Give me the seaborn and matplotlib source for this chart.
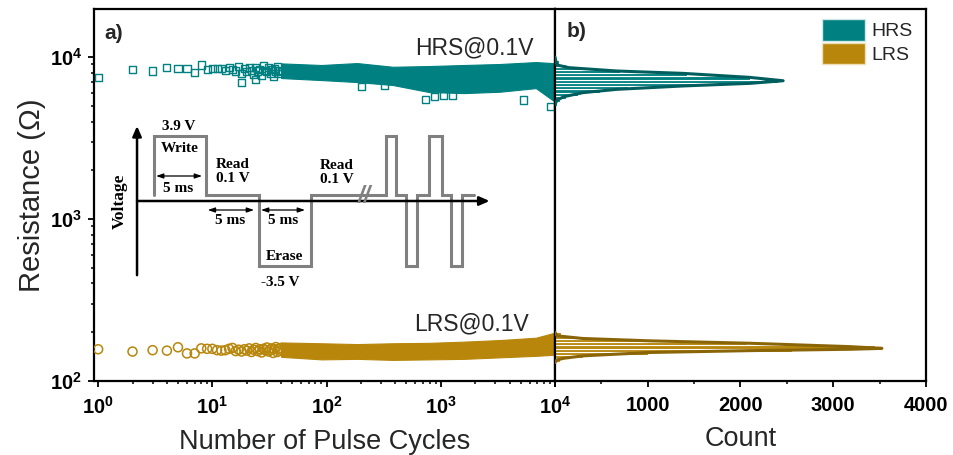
import numpy as np
import pandas as pd
import matplotlib
matplotlib.use("Agg")
import matplotlib.pyplot as plt
from matplotlib.patches import Patch
from matplotlib.ticker import FixedLocator, MultipleLocator, LogLocator, NullFormatter
import seaborn as sns

# ---------------- data ----------------
# individual early cycles (resistance in ohm)
early_cycles = list(range(1, 41))
hrs_early = [7450, 8390, 8200, 8590, 8470, 8470, 8000, 8930, 8400, 8500,
             8450, 8550, 8300, 8600, 8350, 8200, 8700, 7900, 8450, 8100,
             8600, 8300, 7800, 8650, 8200, 8400, 7700, 8900, 8300, 8100,
             8600, 7900, 8350, 7600, 8500, 8200, 8800, 7900, 8300, 8100]
lrs_early = [157, 152, 155, 154, 161.5, 148, 148, 159, 158, 158,
             155, 154, 155, 158, 160, 153, 156, 152, 157, 154,
             159, 151, 156, 160, 153, 157, 150, 158, 155, 161,
             152, 156, 159, 149, 157, 162, 151, 158, 154, 160]

# isolated low HRS readings inside the dense region
hrs_outlier_cycles = [18, 24, 203, 319, 731, 875, 1050, 1260, 5260, 9100]
hrs_outliers = [7000, 7300, 6620, 6720, 5480, 5690, 5830, 5830, 5430, 4980]

# envelope of the dense point cloud (cycles 40 .. 10^4)
cloud_cycles = [40, 90, 185, 380, 790, 1600, 3300, 6800, 9500, 10000]
hrs_cloud_high = [9140, 8930, 9180, 8710, 8800, 8930, 9060, 9310, 9180, 9100]
hrs_cloud_low = [7420, 7210, 7010, 6720, 6080, 5990, 6110, 6430, 5430, 5300]
lrs_cloud_high = [173, 171, 169, 171, 172, 175, 179, 185, 197, 198]
lrs_cloud_low = [141, 136, 137, 135, 136, 137, 140, 143, 145, 146]

# histogram bins (bin centres in ohm, 0.02 decade wide) and counts
bin_width_dec = 0.02
hrs_bin_centers = [5129, 5370, 5623, 5888, 6166, 6457, 6761, 7079, 7413,
                   7762, 8128, 8511, 8913, 9333]
hrs_counts = [20, 50, 120, 250, 485, 790, 1640, 2400, 2100, 1420, 700, 300, 120, 40]
lrs_bin_centers = [134.9, 141.3, 147.9, 154.9, 162.2, 169.8, 177.8, 186.2, 195.0]
lrs_counts = [50, 300, 1000, 2555, 3450, 2070, 1000, 300, 60]

# fitted distribution curves (resistance, count)
hrs_fit_r = [10000, 9500, 8930, 8600, 8200, 7930, 7490, 7140, 6880, 6630,
             6320, 6030, 5700, 5430, 5100]
hrs_fit_count = [0, 8, 22, 150, 668, 1380, 2100, 2460, 2100, 1380,
                 668, 302, 100, 22, 0]
lrs_fit_r = [200, 190, 183, 177, 171, 163, 159, 157, 154, 150, 143, 138, 135, 130]
lrs_fit_count = [0, 22, 300, 1024, 2100, 3180, 3525, 3180, 2100, 1024, 302, 90, 22, 0]

# pulse scheme: segment boundaries (ms) and drawn levels
pulse_t = [1.6, 1.6, 6.6, 6.6, 11.7, 11.7, 16.7, 16.7, 21.4]
pulse_v = [0.36, 3.9, 3.9, 0.36, 0.36, -3.88, -3.88, 0.36, 0.36]
pulse2_t = [22.4, 23.9, 23.9, 24.9, 24.9, 25.9, 25.9, 26.9, 26.9, 28.1,
            28.1, 29.3, 29.3, 30.2, 30.2, 31.2, 31.2, 32.4]
pulse2_v = [0.36, 0.36, 3.9, 3.9, 0.36, 0.36, -3.88, -3.88, 0.36, 0.36,
            3.9, 3.9, 0.36, 0.36, -3.88, -3.88, 0.36, 0.36]

x_ticks = [1, 10, 100, 1000, 10000]
x_ticklabels = [r"$\mathbf{10^{0}}$", r"$\mathbf{10^{1}}$", r"$\mathbf{10^{2}}$",
                r"$\mathbf{10^{3}}$", r"$\mathbf{10^{4}}$"]
y_ticks = [100, 1000, 10000]
y_ticklabels = [r"$\mathbf{10^{2}}$", r"$\mathbf{10^{3}}$", r"$\mathbf{10^{4}}$"]
count_ticks = [0, 1000, 2000, 3000, 4000]
count_ticklabels = ["", "1000", "2000", "3000", "4000"]

TEAL = "#008080"
GOLD = "#B8860B"
TEAL_DARK = "#005E5E"
GOLD_DARK = "#8A6508"
PULSE = "#808080"

# ---------------- style ----------------
sns.set_theme(style="ticks")
plt.rcParams.update({
    "font.family": ["Liberation Sans", "DejaVu Sans"],
    "mathtext.fontset": "custom",
    "mathtext.rm": "Liberation Sans",
    "mathtext.bf": "Liberation Sans:bold",
    "axes.linewidth": 1.6,
    "axes.edgecolor": "black",
    "xtick.major.width": 1.3, "ytick.major.width": 1.3,
    "xtick.minor.width": 1.1, "ytick.minor.width": 1.1,
    "xtick.major.size": 4.5, "ytick.major.size": 4.5,
    "xtick.minor.size": 2.5, "ytick.minor.size": 2.5,
    "xtick.direction": "out", "ytick.direction": "out",
    "xtick.color": "black", "ytick.color": "black",
})

fig = plt.figure(figsize=(9.54, 4.55), dpi=100)
W, H = 954, 455
ax1 = fig.add_axes([94 / W, (H - 381) / H, 461 / W, 372 / H])
ax1.set_xscale("log")
ax1.set_yscale("log")
ax2 = fig.add_axes([555 / W, (H - 381) / H, 371 / W, 372 / H], sharey=ax1)


def fig_xy(px, py):
    """pixel position measured from the top-left corner -> figure fraction"""
    return px / W, 1 - py / H


# ---------------- panel a: endurance ----------------
ax1.fill_between(cloud_cycles, hrs_cloud_low, hrs_cloud_high, color=TEAL, lw=0.8,
                 edgecolor=TEAL, zorder=2)
ax1.fill_between(cloud_cycles, lrs_cloud_low, lrs_cloud_high, color=GOLD, lw=0.8,
                 edgecolor=GOLD, zorder=2)

hrs_df = pd.DataFrame({"cycle": early_cycles + hrs_outlier_cycles,
                       "R": hrs_early + hrs_outliers})
lrs_df = pd.DataFrame({"cycle": early_cycles, "R": lrs_early})
sns.scatterplot(data=hrs_df, x="cycle", y="R", ax=ax1, marker="s", s=26,
                color=TEAL, facecolors="none", edgecolor=TEAL, linewidth=1.0,
                zorder=3, legend=False)
sns.scatterplot(data=lrs_df, x="cycle", y="R", ax=ax1, marker="o", s=42,
                color=GOLD, facecolors="none", edgecolor=GOLD, linewidth=1.1,
                zorder=3, legend=False)

ax1.set_xlim(0.92, 10000)
ax1.set_ylim(100, 19800)
ax1.xaxis.set_major_locator(FixedLocator(x_ticks))
ax1.set_xticklabels(x_ticklabels)
ax1.xaxis.set_minor_locator(LogLocator(base=10, subs=np.arange(2, 10), numticks=20))
ax1.xaxis.set_minor_formatter(NullFormatter())
ax1.yaxis.set_major_locator(FixedLocator(y_ticks))
ax1.set_yticklabels(y_ticklabels)
ax1.yaxis.set_minor_locator(LogLocator(base=10, subs=np.arange(2, 10), numticks=20))
ax1.yaxis.set_minor_formatter(NullFormatter())
ax1.tick_params(axis="both", which="major", labelsize=14.5)
ax1.tick_params(axis="x", which="major", pad=6)
ax1.tick_params(axis="y", which="major", pad=4)
ax1.set_xlabel("Number of Pulse Cycles", fontsize=19.5, labelpad=8)
ax1.set_ylabel("Resistance (\u03a9)", fontsize=21, labelpad=3)

ax1.text(0.022, 0.935, "a)", transform=ax1.transAxes, fontsize=15,
         fontweight="bold", ha="left", va="center")
fig.text(*fig_xy(415, 48), "HRS@0.1V", fontsize=16.5, ha="left", va="center")
fig.text(*fig_xy(414, 324), "LRS@0.1V", fontsize=16.5, ha="left", va="center")

# ---------------- panel b: distributions ----------------
def draw_hist(ax, centers, counts, color):
    c = np.log10(centers)
    lo = 10 ** (c - bin_width_dec / 2)
    hi = 10 ** (c + bin_width_dec / 2)
    ax.barh(lo, counts, height=hi - lo, align="edge", color=color,
            edgecolor="white", linewidth=0.8, zorder=2)

draw_hist(ax2, hrs_bin_centers, hrs_counts, TEAL)
draw_hist(ax2, lrs_bin_centers, lrs_counts, GOLD)
sns.lineplot(x=hrs_fit_count, y=hrs_fit_r, ax=ax2, sort=False, orient="y",
             color=TEAL_DARK, lw=2.2, zorder=3)
sns.lineplot(x=lrs_fit_count, y=lrs_fit_r, ax=ax2, sort=False, orient="y",
             color=GOLD_DARK, lw=2.2, zorder=3)

ax2.set_xlim(0, 4000)
ax2.xaxis.set_major_locator(FixedLocator(count_ticks))
ax2.set_xticklabels(count_ticklabels)
ax2.xaxis.set_minor_locator(MultipleLocator(500))
ax2.tick_params(axis="x", which="major", labelsize=14.5, pad=6)
for lab in ax2.get_xticklabels():
    lab.set_fontweight("bold")
ax2.tick_params(axis="y", which="both", left=False, labelleft=False)
ax2.set_xlabel("Count", fontsize=19.5, labelpad=8)
ax2.set_ylabel("")
ax2.text(0.03, 0.94, "b)", transform=ax2.transAxes, fontsize=15,
         fontweight="bold", ha="left", va="center")
handles = [Patch(facecolor=TEAL, edgecolor="#d0e8e8", label="HRS"),
           Patch(facecolor=GOLD, edgecolor="#eedfb8", label="LRS")]
ax2.legend(handles=handles, loc="upper right", bbox_to_anchor=(0.995, 1.005),
           frameon=False, fontsize=14, handlelength=2.25, handleheight=1.35,
           labelspacing=0.1, handletextpad=0.3, borderaxespad=0.2)

# ---------------- inset: pulse scheme ----------------
ax3 = fig.add_axes([105 / W, (H - 295) / H, 395 / W, 180 / H])
ax3.set_xlim(-3.08, 34.9)
ax3.set_ylim(-5.64, 5.16)
ax3.axis("off")
ax3.annotate("", xy=(33.9, 0), xytext=(0, 0),
             arrowprops=dict(arrowstyle="-|>,head_length=0.5,head_width=0.22",
                             color="black", lw=1.8, shrinkA=0, shrinkB=0))
ax3.annotate("", xy=(0, 4.5), xytext=(0, -4.45),
             arrowprops=dict(arrowstyle="-|>,head_length=0.5,head_width=0.22",
                             color="black", lw=1.8, shrinkA=0, shrinkB=0))
ax3.plot(pulse_t, pulse_v, color=PULSE, lw=2.2, solid_joinstyle="miter")
ax3.plot(pulse2_t, pulse2_v, color=PULSE, lw=2.2, solid_joinstyle="miter")
ax3.plot([21.4, 22.4], [0.36, 0.36], color=PULSE, lw=2.2)
ax3.text(21.9, 0.25, "//", color=PULSE, fontsize=17, fontweight="bold",
         ha="center", va="center", family="Liberation Sans", style="italic")

serif = dict(family="Liberation Serif", fontweight="bold", fontsize=11,
             ha="center", va="center", color="black")
ax3.text(4.04, 4.44, "3.9 V", **serif)
ax3.text(4.13, 3.18, "Write", **serif)
ax3.text(3.94, 0.72, "5 ms", **serif)
ax3.text(9.23, 1.74, "Read\n0.1 V", linespacing=1.1, **serif)
ax3.text(8.94, -1.14, "5 ms", **serif)
ax3.text(14.04, -1.14, "5 ms", **serif)
ax3.text(14.13, -3.3, "Erase", **serif)
ax3.text(13.75, -4.86, "-3.5 V", **serif)
ax3.text(19.23, 1.70, "Read\n0.1 V", linespacing=1.1, **serif)
ax3.text(-1.7, 0.0, "Voltage", rotation=90, **{**serif, "fontsize": 12.5})
dbl = dict(arrowstyle="<|-|>,head_length=0.35,head_width=0.12", color="black",
           lw=0.9, shrinkA=0, shrinkB=0)
ax3.annotate("", xy=(6.25, 1.5), xytext=(1.83, 1.5), arrowprops=dbl)
ax3.annotate("", xy=(11.25, -0.54), xytext=(6.8, -0.54), arrowprops=dbl)
ax3.annotate("", xy=(16.15, -0.54), xytext=(11.92, -0.54), arrowprops=dbl)

fig.savefig("out.png", dpi=100)
